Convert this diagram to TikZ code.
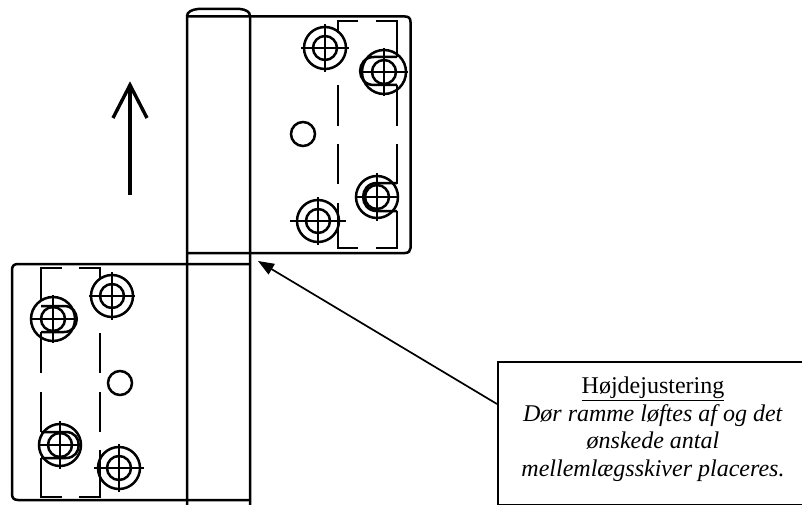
\documentclass[tikz,border=0pt]{standalone}
\usepackage{fontspec}
\setmainfont{Liberation Serif}
\usetikzlibrary{arrows.meta}
\newcommand{\myscrew}[4]{% x y R hlen
  \draw[part] (#1,#2) circle[radius=#3];
  \draw[part] (#1,#2) circle[radius=12];
  \draw[part] (#1-#4,#2) -- (#1+#4,#2);
  \draw[part] (#1,#2-24) -- (#1,#2+24);
}
\tikzset{
  part/.style={line width=2.5pt,draw=black},
  dash part/.style={line width=2.5pt,draw=black},
  infobox/.style={draw=black,line width=1.7pt,minimum width=330pt,minimum height=143pt,anchor=north west,inner sep=0pt},
  infotext/.style={align=center,font=\fontsize{24}{27.5}\selectfont,inner sep=0pt}
}
\begin{document}
\begin{tikzpicture}[x=1pt,y=-1pt]
\useasboundingbox (0,0) rectangle (802,505);
% barrel
\draw[part] (187,505) -- (187,16) .. controls (187,12) and (192,9.5) .. (198,9) -- (240,9) .. controls (246,9.5) and (250,12) .. (250,16) -- (250,505);
\draw[part] (187,16.5) -- (405,16.5) .. controls (408.5,16.5) and (410.5,18) .. (410.5,22) -- (410.5,248) .. controls (410.5,251) and (408.5,253) .. (405,253) -- (187,253);
\draw[part] (250,264) -- (18,264) .. controls (14,264) and (12,266) .. (12,270) -- (12,494) .. controls (12,498) and (14,500) .. (18,500) -- (250,500);
% upper shim outline
\draw[dash part] (358,21) -- (338,21) -- (338,33);
\draw[dash part] (376,21) -- (397,21) -- (397,57);
\draw[dash part] (338,85) -- (338,126) (338,144) -- (338,184) (338,203) -- (338,248) -- (358,248);
\draw[dash part] (397,85) -- (397,126) (397,144) -- (397,184);
\draw[dash part] (397,211) -- (397,248) -- (376,248);
% lower shim outline
\draw[dash part] (62,268) -- (41,268) -- (41,300);
\draw[dash part] (79,268) -- (100,268) -- (100,280);
\draw[dash part] (41,332) -- (41,373) (41,392) -- (41,432) (41,458) -- (41,497) -- (62,497);
\draw[dash part] (100,333) -- (100,373) (100,392) -- (100,432) (100,450) -- (100,497) -- (79,497);
% upper screws
\myscrew{325}{48}{21}{24}
\myscrew{384}{72}{22}{24}
\draw[part] (397,57) -- (374,57) .. controls (355.5,57) and (355.5,85) .. (374,85) -- (397,85);
\myscrew{377}{197}{21}{22}
\draw[part] (397,183) -- (377,183) .. controls (358.5,183) and (358.5,211) .. (377,211) -- (397,211);
\myscrew{318}{221}{21}{28}
% lower screws
\myscrew{112}{296}{21}{23}
\myscrew{53}{319}{22}{21}
\draw[part] (41,306) -- (64,306) .. controls (81,306) and (81,332) .. (64,332) -- (41,332);
\myscrew{60}{445}{21}{21}
\draw[part] (41,432) -- (66,432) .. controls (83,432) and (83,458) .. (66,458) -- (41,458);
\myscrew{119}{468}{21}{25}
% holes
\draw[part] (303,134) circle[radius=12];
\draw[part] (120,383) circle[radius=12];
% up arrow
\coordinate (upstart) at (130,195);
\coordinate (uptip) at (130,85);
\draw[line width=3.4pt] (upstart) -- (uptip);
\draw[line width=3.4pt] (113,118) -- (uptip) -- (147,118);
% box
\node[infobox] (box) at (497,361) {};
\node[infotext] (boxtext) at (653,429) {\underline{Højdejustering}\\\textit{Dør ramme løftes af og det}\\\textit{ønskede antal}\\\textit{mellemlægsskiver placeres.}};
\coordinate (lift) at (258,261);
\coordinate (boxedge) at (497,404);
\draw[line width=1.7pt,-{Triangle[length=16pt,width=12pt]}] (boxedge) -- (lift);
\end{tikzpicture}
\end{document}
